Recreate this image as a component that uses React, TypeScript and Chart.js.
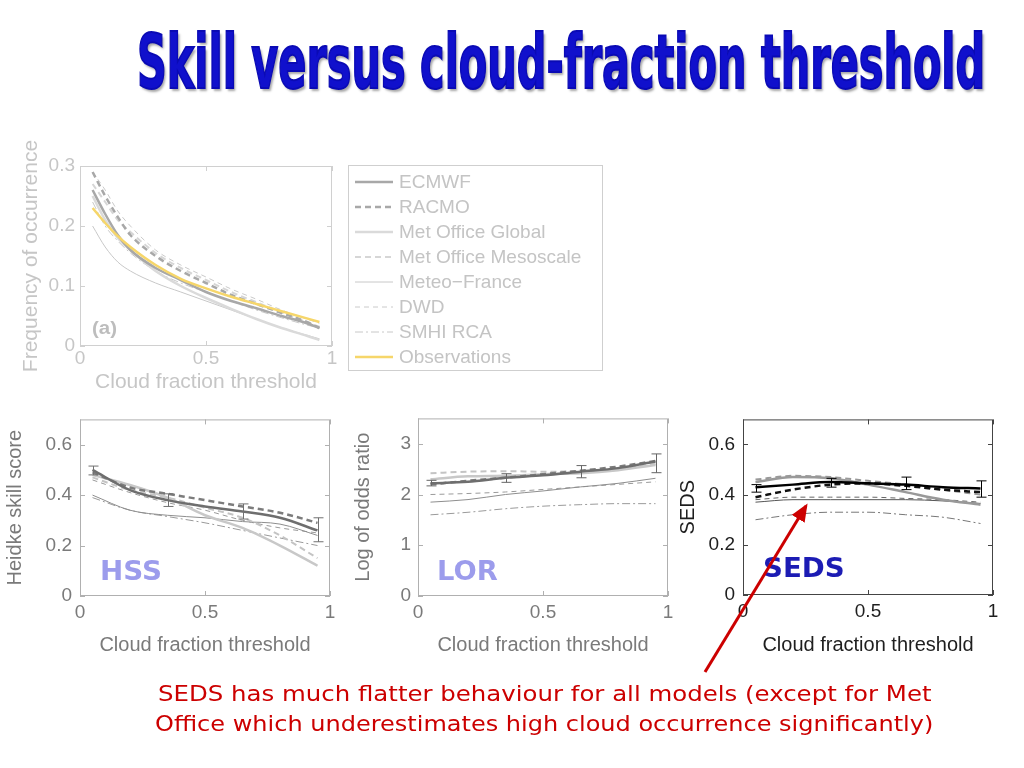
import React, { useEffect, useLayoutEffect, useRef, useState } from "react";
import { Chart, registerables } from "chart.js";
Chart.register(...registerables);
Chart.defaults.font.family = "'Liberation Sans', Arial, sans-serif";

// ---------- DATA ----------
const MODEL_NAMES = ["ECMWF", "RACMO", "Met Office Global", "Met Office Mesoscale", "Meteo\u2212France", "DWD", "SMHI RCA"];
const OBS_NAME = "Observations";

// panel (a): frequency of occurrence
const FREQ_X = [0.05, 0.1, 0.15, 0.2, 0.3, 0.4, 0.5, 0.6, 0.7, 0.8, 0.9, 0.95];
const FREQ_ECMWF = [0.26, 0.22, 0.185, 0.16, 0.13, 0.11, 0.09, 0.075, 0.063, 0.05, 0.038, 0.03];
const FREQ_RACMO = [0.29, 0.25, 0.215, 0.185, 0.15, 0.125, 0.105, 0.085, 0.07, 0.055, 0.04, 0.03];
const FREQ_MOGLOBAL = [0.25, 0.21, 0.18, 0.16, 0.125, 0.1, 0.08, 0.062, 0.045, 0.03, 0.017, 0.01];
const FREQ_MOMESO = [0.27, 0.24, 0.21, 0.19, 0.155, 0.13, 0.11, 0.09, 0.073, 0.056, 0.04, 0.032];
const FREQ_METEOFR = [0.2, 0.165, 0.14, 0.125, 0.105, 0.09, 0.075, 0.06, 0.045, 0.03, 0.018, 0.012];
const FREQ_DWD = [0.29, 0.26, 0.225, 0.2, 0.16, 0.135, 0.115, 0.095, 0.078, 0.06, 0.045, 0.038];
const FREQ_SMHI = [0.24, 0.2, 0.175, 0.155, 0.125, 0.105, 0.09, 0.075, 0.06, 0.047, 0.035, 0.03];
const FREQ_OBS = [0.23, 0.205, 0.183, 0.165, 0.135, 0.112, 0.096, 0.082, 0.07, 0.058, 0.046, 0.04];
const FREQ_XTICKS = [0, 0.5, 1];
const FREQ_YTICKS = [0, 0.1, 0.2, 0.3];

// skill panels
const SKILL_X = [0.05, 0.2, 0.35, 0.5, 0.65, 0.8, 0.95];
const SKILL_XTICKS = [0, 0.5, 1];
const ERR_X = [0.05, 0.35, 0.65, 0.95];

const HSS_ECMWF = [0.5, 0.42, 0.38, 0.355, 0.335, 0.31, 0.26];
const HSS_RACMO = [0.49, 0.43, 0.405, 0.38, 0.355, 0.33, 0.29];
const HSS_MOGLOBAL = [0.48, 0.44, 0.39, 0.32, 0.27, 0.2, 0.12];
const HSS_MOMESO = [0.47, 0.42, 0.39, 0.35, 0.31, 0.24, 0.15];
const HSS_METEOFR = [0.4, 0.34, 0.32, 0.31, 0.295, 0.285, 0.24];
const HSS_DWD = [0.46, 0.41, 0.37, 0.34, 0.3, 0.27, 0.25];
const HSS_SMHI = [0.39, 0.34, 0.315, 0.29, 0.26, 0.23, 0.2];
const HSS_ERR_LO = [0.48, 0.355, 0.305, 0.215];
const HSS_ERR_HI = [0.515, 0.405, 0.365, 0.31];
const HSS_YTICKS = [0, 0.2, 0.4, 0.6];

const LOR_ECMWF = [2.22, 2.25, 2.33, 2.38, 2.45, 2.52, 2.65];
const LOR_RACMO = [2.2, 2.27, 2.33, 2.4, 2.47, 2.55, 2.66];
const LOR_MOGLOBAL = [2.3, 2.36, 2.37, 2.4, 2.42, 2.48, 2.58];
const LOR_MOMESO = [2.42, 2.45, 2.46, 2.45, 2.46, 2.5, 2.6];
const LOR_METEOFR = [1.85, 1.9, 2.0, 2.07, 2.15, 2.22, 2.32];
const LOR_DWD = [2.0, 2.02, 2.05, 2.1, 2.15, 2.2, 2.25];
const LOR_SMHI = [1.6, 1.65, 1.72, 1.77, 1.8, 1.82, 1.82];
const LOR_ERR_LO = [2.17, 2.24, 2.33, 2.43];
const LOR_ERR_HI = [2.28, 2.41, 2.57, 2.8];
const LOR_YTICKS = [0, 1, 2, 3];

const SEDS_ECMWF = [0.43, 0.44, 0.45, 0.445, 0.44, 0.43, 0.425];
const SEDS_RACMO = [0.39, 0.42, 0.44, 0.445, 0.435, 0.42, 0.41];
const SEDS_MOGLOBAL = [0.45, 0.47, 0.465, 0.44, 0.41, 0.38, 0.36];
const SEDS_MOMESO = [0.46, 0.475, 0.47, 0.455, 0.44, 0.42, 0.4];
const SEDS_METEOFR = [0.37, 0.38, 0.38, 0.38, 0.38, 0.375, 0.365];
const SEDS_DWD = [0.38, 0.39, 0.39, 0.39, 0.385, 0.38, 0.37];
const SEDS_SMHI = [0.3, 0.32, 0.33, 0.33, 0.32, 0.31, 0.285];
const SEDS_ERR_LO = [0.41, 0.43, 0.42, 0.39];
const SEDS_ERR_HI = [0.44, 0.465, 0.47, 0.455];
const SEDS_YTICKS = [0, 0.2, 0.4, 0.6];

// ---------- STYLES ----------
const LINE_STYLE = [
  { w: 2.5, dash: [] as number[] },
  { w: 2.5, dash: [6, 4] },
  { w: 2.5, dash: [] as number[] },
  { w: 2, dash: [6, 4] },
  { w: 1, dash: [] as number[] },
  { w: 1, dash: [5, 4] },
  { w: 1, dash: [8, 3, 2, 3] },
];
const COLORS_A = ["#a8a8a8", "#a8a8a8", "#dadada", "#d6d6d6", "#c8c8c8", "#cacaca", "#c8c8c8"];
const COLORS_MID = ["#6e6e6e", "#7c7c7c", "#c8c8c8", "#c4c4c4", "#8e8e8e", "#9a9a9a", "#9a9a9a"];
const COLORS_DARK = ["#000000", "#111111", "#999999", "#999999", "#555555", "#666666", "#777777"];

function toPts(xs: number[], ys: number[]) {
  return xs.map((x, i) => ({ x, y: ys[i] }));
}

function makeDatasets(xs: number[], series: number[][], colors: string[]) {
  return series.map((ys, i) => ({
    label: MODEL_NAMES[i],
    data: toPts(xs, ys),
    borderColor: colors[i],
    borderWidth: LINE_STYLE[i].w,
    borderDash: LINE_STYLE[i].dash,
    pointRadius: 0,
    tension: 0.4,
    cubicInterpolationMode: "monotone" as const,
    fill: false,
  }));
}

type PanelProps = {
  left: number; top: number; width: number; height: number;
  datasets: any[];
  yMax: number; yTicks: number[]; xTicks: number[];
  yTitle: string; textColor: string; frameColor: string;
  padTop: number; padRight: number; yWidth: number; xHeight: number;
  yTitlePad: number; xTitlePad: number; tickFont: number; titleFont: number;
  err?: { x: number[]; lo: number[]; hi: number[]; color: string };
  legend?: { x0: number; y0: number; w: number; h: number; rowY0: number; dy: number; color: string };
  xTickPad: number; yTickPad: number;
};

function Panel(p: PanelProps) {
  const ref = useRef<HTMLCanvasElement>(null);
  useEffect(() => {
    if (!ref.current) return;
    const framePlugin = {
      id: "frameTicks",
      afterDatasetsDraw(chart: any) {
        const { ctx, chartArea: a, scales } = chart;
        const x = scales.x, y = scales.y;
        ctx.save();
        if (p.err) {
          ctx.strokeStyle = p.err.color;
          ctx.lineWidth = 1;
          ctx.beginPath();
          p.err.x.forEach((xv, i) => {
            const px = Math.round(x.getPixelForValue(xv)) + 0.5;
            const lo = y.getPixelForValue(p.err!.lo[i]);
            const hi = y.getPixelForValue(p.err!.hi[i]);
            ctx.moveTo(px, lo); ctx.lineTo(px, hi);
            ctx.moveTo(px - 5, lo); ctx.lineTo(px + 5, lo);
            ctx.moveTo(px - 5, hi); ctx.lineTo(px + 5, hi);
          });
          ctx.stroke();
        }
        ctx.strokeStyle = p.frameColor;
        ctx.lineWidth = 1;
        ctx.setLineDash([]);
        ctx.strokeRect(a.left + 0.5, a.top + 0.5, a.width - 1, a.height - 1);
        ctx.beginPath();
        x.ticks.forEach((t: any) => {
          const px = Math.round(x.getPixelForValue(t.value)) + 0.5;
          ctx.moveTo(px, a.bottom); ctx.lineTo(px, a.bottom - 5);
          ctx.moveTo(px, a.top); ctx.lineTo(px, a.top + 5);
        });
        y.ticks.forEach((t: any) => {
          const py = Math.round(y.getPixelForValue(t.value)) + 0.5;
          ctx.moveTo(a.left, py); ctx.lineTo(a.left + 5, py);
          ctx.moveTo(a.right, py); ctx.lineTo(a.right - 5, py);
        });
        ctx.stroke();
        ctx.restore();
      },
      afterDraw(chart: any) {
        if (!p.legend) return;
        const L = p.legend;
        const ctx = chart.ctx;
        ctx.save();
        ctx.strokeStyle = "#cfcfcf";
        ctx.lineWidth = 1;
        ctx.strokeRect(L.x0 + 0.5, L.y0 + 0.5, L.w, L.h);
        chart.data.datasets.forEach((ds: any, i: number) => {
          const yy = L.rowY0 + i * L.dy;
          ctx.strokeStyle = ds.borderColor;
          ctx.lineWidth = ds.borderWidth;
          ctx.setLineDash(ds.borderDash || []);
          ctx.beginPath();
          ctx.moveTo(L.x0 + 7, yy);
          ctx.lineTo(L.x0 + 45, yy);
          ctx.stroke();
          ctx.setLineDash([]);
          ctx.fillStyle = L.color;
          ctx.font = "19px 'Liberation Sans', Arial, sans-serif";
          ctx.textBaseline = "middle";
          ctx.fillText(ds.label, L.x0 + 51, yy + 1);
        });
        ctx.restore();
      },
    };
    const chart = new Chart(ref.current, {
      type: "line",
      data: { datasets: p.datasets },
      options: {
        responsive: false,
        animation: false,
        layout: { padding: { top: p.padTop, right: p.padRight, left: 0, bottom: 0 } },
        plugins: { legend: { display: false }, tooltip: { enabled: false } },
        scales: {
          x: {
            type: "linear",
            min: 0,
            max: 1,
            grid: { display: false, drawTicks: false },
            border: { display: false },
            afterBuildTicks: (s: any) => { s.ticks = p.xTicks.map((v) => ({ value: v })); },
            afterFit: (s: any) => { s.height = p.xHeight; },
            ticks: { color: p.textColor, font: { size: p.tickFont }, padding: p.xTickPad, maxRotation: 0, callback: (v: any) => String(v) },
            title: { display: true, text: "Cloud fraction threshold", color: p.textColor, font: { size: p.titleFont }, padding: { top: 0, bottom: p.xTitlePad } },
          },
          y: {
            type: "linear",
            min: 0,
            max: p.yMax,
            grid: { display: false, drawTicks: false },
            border: { display: false },
            afterBuildTicks: (s: any) => { s.ticks = p.yTicks.map((v) => ({ value: v })); },
            afterFit: (s: any) => { s.width = p.yWidth; },
            ticks: { color: p.textColor, font: { size: p.tickFont }, padding: p.yTickPad, callback: (v: any) => String(v) },
            title: { display: true, text: p.yTitle, color: p.textColor, font: { size: p.titleFont }, padding: { top: p.yTitlePad, bottom: 0 } },
          },
        },
      },
      plugins: [framePlugin],
    } as any);
    return () => chart.destroy();
  }, []);
  return (
    <canvas
      ref={ref}
      width={p.width}
      height={p.height}
      style={{ position: "absolute", left: p.left, top: p.top, width: p.width, height: p.height }}
    />
  );
}

function FitText(props: { text: string; left: number; baseline: number; width: number; size: number; style?: React.CSSProperties }) {
  const ref = useRef<HTMLSpanElement>(null);
  const [sx, setSx] = useState(1);
  useLayoutEffect(() => {
    if (ref.current) {
      const w = ref.current.offsetWidth;
      if (w > 0) setSx(props.width / w);
    }
  }, [props.text, props.width]);
  return (
    <span
      ref={ref}
      style={{
        position: "absolute",
        left: props.left,
        top: props.baseline - 0.846 * props.size,
        fontSize: props.size,
        lineHeight: 1,
        whiteSpace: "nowrap",
        transform: `scaleX(${sx})`,
        transformOrigin: "0 0",
        ...props.style,
      }}
    >
      {props.text}
    </span>
  );
}

export default function App() {
  const freqDs = [
    ...makeDatasets(FREQ_X, [FREQ_ECMWF, FREQ_RACMO, FREQ_MOGLOBAL, FREQ_MOMESO, FREQ_METEOFR, FREQ_DWD, FREQ_SMHI], COLORS_A),
    {
      label: OBS_NAME,
      data: toPts(FREQ_X, FREQ_OBS),
      borderColor: "#f6d66a",
      borderWidth: 2.5,
      borderDash: [] as number[],
      pointRadius: 0,
      tension: 0.4,
      cubicInterpolationMode: "monotone" as const,
      fill: false,
      order: -1,
    },
  ];
  const hssDs = makeDatasets(SKILL_X, [HSS_ECMWF, HSS_RACMO, HSS_MOGLOBAL, HSS_MOMESO, HSS_METEOFR, HSS_DWD, HSS_SMHI], COLORS_MID);
  const lorDs = makeDatasets(SKILL_X, [LOR_ECMWF, LOR_RACMO, LOR_MOGLOBAL, LOR_MOMESO, LOR_METEOFR, LOR_DWD, LOR_SMHI], COLORS_MID);
  const sedsDs = makeDatasets(SKILL_X, [SEDS_ECMWF, SEDS_RACMO, SEDS_MOGLOBAL, SEDS_MOMESO, SEDS_METEOFR, SEDS_DWD, SEDS_SMHI], COLORS_DARK);

  const sans = "'Liberation Sans', Arial, sans-serif";
  const bold = "'DejaVu Sans', Verdana, sans-serif";

  return (
    <div style={{ position: "absolute", left: 0, top: 0, width: 1024, height: 768, background: "#fff", overflow: "hidden", fontFamily: sans }}>
      <FitText
        text="Skill versus cloud-fraction threshold"
        left={137}
        baseline={88}
        width={848}
        size={74}
        style={{
          fontFamily: "'Liberation Sans Narrow', 'DejaVu Sans Condensed', 'Liberation Sans', sans-serif",
          fontWeight: 700,
          color: "#1010cc",
          WebkitTextStroke: "2px #0a0ab4",
          textShadow: "3px 3px 3px rgba(0,0,0,0.35)",
        }}
      />

      <Panel
        left={0} top={120} width={620} height={285}
        datasets={freqDs} yMax={0.3} yTicks={FREQ_YTICKS} xTicks={FREQ_XTICKS}
        yTitle="Frequency of occurrence" textColor="#c6c6c6" frameColor="#d0d0d0"
        padTop={46} padRight={288} yWidth={80} xHeight={59}
        yTitlePad={19} xTitlePad={10} tickFont={19} titleFont={21}
        xTickPad={1} yTickPad={5}
        legend={{ x0: 348, y0: 45, w: 254, h: 205, rowY0: 62, dy: 25, color: "#c4c4c4" }}
      />
      <Panel
        left={0} top={400} width={345} height={265}
        datasets={hssDs} yMax={0.7} yTicks={HSS_YTICKS} xTicks={SKILL_XTICKS}
        yTitle="Heidke skill score" textColor="#7a7a7a" frameColor="#b0b0b0"
        padTop={17} padRight={15} yWidth={80} xHeight={69}
        yTitlePad={3} xTitlePad={8} tickFont={19} titleFont={20}
        xTickPad={5} yTickPad={8}
        err={{ x: ERR_X, lo: HSS_ERR_LO, hi: HSS_ERR_HI, color: "#707070" }}
      />
      <Panel
        left={345} top={400} width={345} height={265}
        datasets={lorDs} yMax={3.5} yTicks={LOR_YTICKS} xTicks={SKILL_XTICKS}
        yTitle="Log of odds ratio" textColor="#7a7a7a" frameColor="#b0b0b0"
        padTop={18} padRight={22} yWidth={73} xHeight={69}
        yTitlePad={6} xTitlePad={8} tickFont={19} titleFont={20}
        xTickPad={5} yTickPad={7}
        err={{ x: ERR_X, lo: LOR_ERR_LO, hi: LOR_ERR_HI, color: "#666666" }}
      />
      <Panel
        left={670} top={400} width={345} height={265}
        datasets={sedsDs} yMax={0.7} yTicks={SEDS_YTICKS} xTicks={SKILL_XTICKS}
        yTitle="SEDS" textColor="#1e1e1e" frameColor="#444444"
        padTop={18} padRight={22} yWidth={73} xHeight={70}
        yTitlePad={6} xTitlePad={8} tickFont={19} titleFont={20}
        xTickPad={5} yTickPad={8}
        err={{ x: ERR_X, lo: SEDS_ERR_LO, hi: SEDS_ERR_HI, color: "#000000" }}
      />

      <FitText text="(a)" left={92} baseline={334} width={25} size={18} style={{ fontFamily: sans, fontWeight: 700, color: "#bdbdbd" }} />
      <FitText text="HSS" left={100} baseline={580} width={62} size={26} style={{ fontFamily: bold, fontWeight: 700, color: "#9c9cec" }} />
      <FitText text="LOR" left={437} baseline={580} width={61} size={26} style={{ fontFamily: bold, fontWeight: 700, color: "#9c9cec" }} />
      <FitText text="SEDS" left={763} baseline={577} width={82} size={26} style={{ fontFamily: bold, fontWeight: 700, color: "#1c1cb4" }} />

      <svg width={1024} height={768} style={{ position: "absolute", left: 0, top: 0, pointerEvents: "none" }}>
        <defs>
          <marker id="ah" markerWidth="6" markerHeight="5" refX="5" refY="2.5" orient="auto" markerUnits="strokeWidth">
            <path d="M0,0 L6,2.5 L0,5 z" fill="#cc0000" />
          </marker>
        </defs>
        <line x1={705} y1={672} x2={806} y2={506} stroke="#cc0000" strokeWidth={3} markerEnd="url(#ah)" />
      </svg>

      <FitText
        text="SEDS has much flatter behaviour for all models (except for Met"
        left={158} baseline={702} width={774} size={22}
        style={{ fontFamily: "'DejaVu Sans', sans-serif", color: "#cc0000" }}
      />
      <FitText
        text="Office which underestimates high cloud occurrence significantly)"
        left={155} baseline={732} width={778} size={22}
        style={{ fontFamily: "'DejaVu Sans', sans-serif", color: "#cc0000" }}
      />
    </div>
  );
}
